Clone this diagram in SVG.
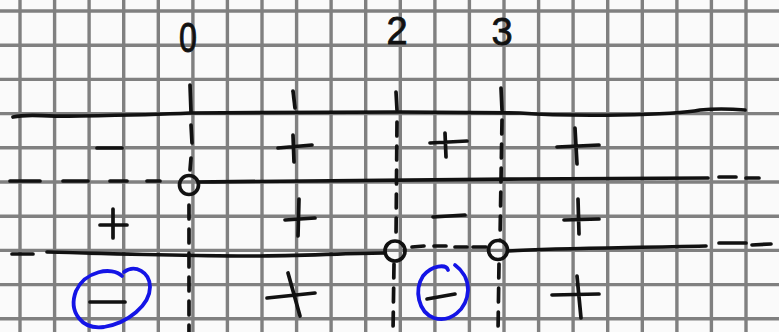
<svg xmlns="http://www.w3.org/2000/svg" width="779" height="332" viewBox="0 0 779 332">
<defs>
<style>
.grid line{stroke:#808080;stroke-width:3.4}
.ink{fill:none;stroke:#111;stroke-width:3.7;stroke-linecap:round;stroke-linejoin:round}
.dash{stroke-dasharray:14 10}
.blue{fill:none;stroke:#1414e6;stroke-width:3.8;stroke-linecap:round}
.lbl{font-family:"Liberation Sans","DejaVu Sans",sans-serif;font-size:38px;fill:#111;stroke:#111;stroke-width:0.8;text-anchor:middle}
</style>
</defs>
<rect width="779" height="332" fill="#fafafa"/>
<g class="grid" id="grid">
<line x1="20" y1="0" x2="20" y2="332"/><line x1="54.6" y1="0" x2="54.6" y2="332"/><line x1="89.1" y1="0" x2="89.1" y2="332"/><line x1="123.7" y1="0" x2="123.7" y2="332"/><line x1="158.3" y1="0" x2="158.3" y2="332"/><line x1="192.9" y1="0" x2="192.9" y2="332"/><line x1="227.4" y1="0" x2="227.4" y2="332"/><line x1="262" y1="0" x2="262" y2="332"/><line x1="296.6" y1="0" x2="296.6" y2="332"/><line x1="331.1" y1="0" x2="331.1" y2="332"/><line x1="365.7" y1="0" x2="365.7" y2="332"/><line x1="400.3" y1="0" x2="400.3" y2="332"/><line x1="434.9" y1="0" x2="434.9" y2="332"/><line x1="469.4" y1="0" x2="469.4" y2="332"/><line x1="504" y1="0" x2="504" y2="332"/><line x1="538.6" y1="0" x2="538.6" y2="332"/><line x1="573.1" y1="0" x2="573.1" y2="332"/><line x1="607.7" y1="0" x2="607.7" y2="332"/><line x1="642.3" y1="0" x2="642.3" y2="332"/><line x1="676.9" y1="0" x2="676.9" y2="332"/><line x1="711.4" y1="0" x2="711.4" y2="332"/><line x1="746" y1="0" x2="746" y2="332"/>
<line x1="0" y1="11" x2="779" y2="11"/><line x1="0" y1="45.2" x2="779" y2="45.2"/><line x1="0" y1="79.4" x2="779" y2="79.4"/><line x1="0" y1="113.6" x2="779" y2="113.6"/><line x1="0" y1="147.8" x2="779" y2="147.8"/><line x1="0" y1="182" x2="779" y2="182"/><line x1="0" y1="216.2" x2="779" y2="216.2"/><line x1="0" y1="250.4" x2="779" y2="250.4"/><line x1="0" y1="284.6" x2="779" y2="284.6"/><line x1="0" y1="318.8" x2="779" y2="318.8"/>
</g>
<g id="labels">
<text class="lbl" x="188" y="52" transform="translate(188 52) scale(0.85 1.1) translate(-188 -52)">0</text>
<text class="lbl" x="397" y="44">2</text>
<text class="lbl" x="502" y="45">3</text>
</g>
<g id="connectors">
<path class="ink" d="M13,117 C30,113 40,117 80,116 C140,115 170,114 190,113 L400,112 L520,113 Q560,116 620,115 Q680,114 700,110 Q720,108 745,110"/>
<path class="ink" d="M190,85 L191,112"/>
<path class="ink" d="M293,91 L295,108"/>
<path class="ink" d="M396,92 L397,110"/>
<path class="ink" d="M501,88 L502,110"/>
<path class="ink" d="M191,125 L192,143 M191,158 L190,170"/>
<path class="ink dash" d="M189,205 L189,332"/>
<path class="ink dash" d="M397,122 L396,240"/>
<path class="ink dash" d="M394,264 L393,332"/>
<path class="ink dash" d="M502,120 L500,240"/>
<path class="ink dash" d="M499,264 L498,332"/>
<path class="ink" d="M10,181 L40,181 M63,181 L88,181 M110,181 L127,181 M147,181 L160,181"/>
<circle class="ink" cx="189" cy="185" r="9.5"/>
<path class="ink" d="M199,182 C300,181 400,180 520,179 C600,178 660,178 708,178 M719,177 L736,177 M746,178 L759,178"/>
<path class="ink" d="M12,254 L33,254 M47,252 C120,254 200,256 260,256 C320,255 360,253 384,253"/>
<circle class="ink" cx="395" cy="251" r="10"/>
<path class="ink" d="M412,247 L424,246 M434,246 L446,246 M455,247 L467,247 M473,247 L486,247"/>
<circle class="ink" cx="498" cy="250" r="9.5"/>
<path class="ink" d="M508,251 C560,248 620,248 706,246 M719,243 L746,243 M752,245 L771,244"/>
</g>
<g id="signs">
<path class="ink" d="M97,148 L122,148"/>
<path class="ink" d="M278,148 L312,145 M293,135 L294,162"/>
<path class="ink" d="M430,143 L467,141 M445,133 L446,157"/>
<path class="ink" d="M557,147 L599,145 M575,128 L577,164"/>
<path class="ink" d="M100,225 L127,225 M113,209 L113,238"/>
<path class="ink" d="M285,220 L315,218 M299,199 L298,236"/>
<path class="ink" d="M433,217 L465,215"/>
<path class="ink" d="M564,220 L599,219 M578,199 L579,234"/>
<path class="ink" d="M90,302 L125,302"/>
<path class="ink" d="M267,298 L315,293 M288,273 L300,316"/>
<path class="ink" d="M427,299 L455,294"/>
<path class="ink" d="M552,295 L599,294 M577,276 L581,318"/>
</g>
<g id="circled">
<path class="blue" d="M122,276 C112,266 85,271 76,291 C68,312 82,330 104,327 C128,323 150,305 150,287 C150,272 135,264 124,272"/>
<path class="blue" d="M448,270 C446,264 432,265 423,276 C414,290 418,312 434,318 C450,323 467,310 468,290 C468,279 462,270 455,265"/>
</g>
</svg>
